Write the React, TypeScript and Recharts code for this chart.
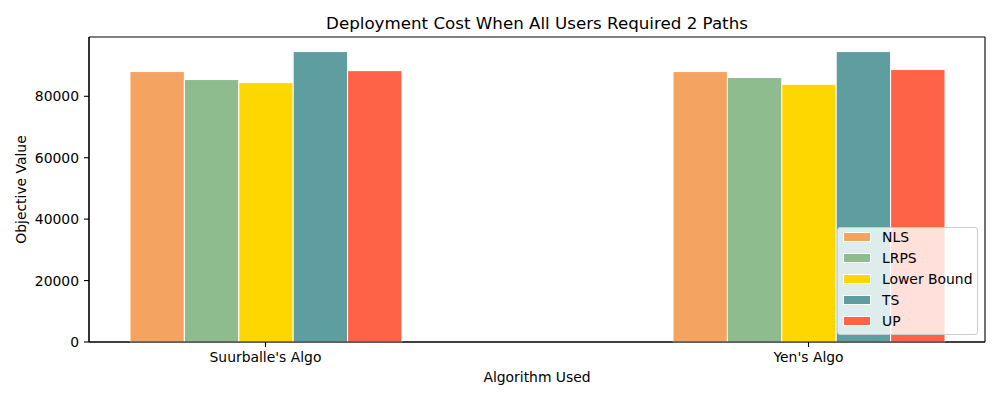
import { BarChart, Bar, XAxis, YAxis, CartesianGrid } from "recharts";

const categories = ["Suurballe's Algo", "Yen's Algo"];
const nls = [88050, 88050];
const lrps = [85450, 86100];
const lowerBound = [84450, 83900];
const ts = [94550, 94550];
const up = [88350, 88700];
const yTicks = [0, 20000, 40000, 60000, 80000];

const SERIES = [
  { key: "nls", name: "NLS", color: "#F4A460", values: nls },
  { key: "lrps", name: "LRPS", color: "#8FBC8F", values: lrps },
  { key: "lb", name: "Lower Bound", color: "#FFD700", values: lowerBound },
  { key: "ts", name: "TS", color: "#5F9EA0", values: ts },
  { key: "up", name: "UP", color: "#FF6347", values: up },
];

const FONT = "'DejaVu Sans', sans-serif";

const data = categories.map((name, i) => {
  const row: Record<string, number | string> = { x: i, name };
  for (const s of SERIES) row[s.key] = s.values[i];
  return row;
});

export default function App() {
  const tickStyle = { fontSize: 13.9, fill: "#000", fontFamily: FONT };
  return (
    <div
      style={{
        position: "absolute",
        left: 0,
        top: 0,
        width: 1000,
        height: 400,
        background: "#fff",
        fontFamily: FONT,
      }}
    >
      <div
        style={{
          position: "absolute",
          left: 89,
          width: 896,
          top: 14.6,
          textAlign: "center",
          fontSize: 16.7,
          lineHeight: "16.7px",
          color: "#000",
          whiteSpace: "nowrap",
        }}
      >
        Deployment Cost When All Users Required 2 Paths
      </div>
      <BarChart
        width={1000}
        height={400}
        data={data}
        margin={{ top: 37, right: 15, bottom: 0, left: 0 }}
        barGap={0}
      >
        {/* box around the plot area, like matplotlib spines */}
        <CartesianGrid
          stroke="#000"
          strokeWidth={1.1}
          horizontalCoordinatesGenerator={({ offset }: any) => [
            offset.top,
            offset.top + offset.height,
          ]}
          verticalCoordinatesGenerator={({ offset }: any) => [
            offset.left,
            offset.left + offset.width,
          ]}
        />
        <XAxis
          dataKey="x"
          type="number"
          domain={[-0.325, 1.325]}
          allowDataOverflow
          ticks={[0, 1]}
          tickFormatter={(v: number) => categories[v] ?? ""}
          height={58}
          tickSize={5}
          tickMargin={5}
          tick={tickStyle}
          axisLine={{ stroke: "#000", strokeWidth: 1.1 }}
          tickLine={{ stroke: "#000", strokeWidth: 1.1 }}
          label={{
            value: "Algorithm Used",
            position: "insideBottom",
            offset: 18,
            style: { fontSize: 13.9, fill: "#000", fontFamily: FONT },
          }}
        />
        <YAxis
          domain={[0, 99300]}
          ticks={yTicks}
          width={89}
          tickSize={5}
          tickMargin={5}
          tick={tickStyle}
          axisLine={{ stroke: "#000", strokeWidth: 1.1 }}
          tickLine={{ stroke: "#000", strokeWidth: 1.1 }}
          label={{
            value: "Objective Value",
            angle: -90,
            position: "insideLeft",
            offset: 21,
            style: {
              fontSize: 13.9,
              fill: "#000",
              fontFamily: FONT,
              textAnchor: "middle",
            },
          }}
        />
        {SERIES.map((s) => (
          <Bar
            key={s.key}
            dataKey={s.key}
            name={s.name}
            fill={s.color}
            stroke="#fff"
            strokeWidth={1}
            barSize={54.4}
            isAnimationActive={false}
          />
        ))}
      </BarChart>
      <div
        style={{
          position: "absolute",
          left: 837,
          top: 227,
          width: 139,
          height: 106,
          border: "1px solid #cccccc",
          borderRadius: 3,
          background: "rgba(255,255,255,0.8)",
          zIndex: 2,
        }}
      >
        {SERIES.map((s, i) => (
          <div
            key={s.key}
            style={{
              position: "absolute",
              left: 5,
              top: -1 + i * 21,
              height: 20,
              display: "flex",
              alignItems: "center",
              fontSize: 13.9,
              color: "#000",
              whiteSpace: "nowrap",
            }}
          >
            <span
              style={{
                display: "inline-block",
                width: 28,
                height: 10,
                background: s.color,
                border: "1px solid #fff",
                boxSizing: "border-box",
                marginRight: 11,
              }}
            />
            {s.name}
          </div>
        ))}
      </div>
    </div>
  );
}
